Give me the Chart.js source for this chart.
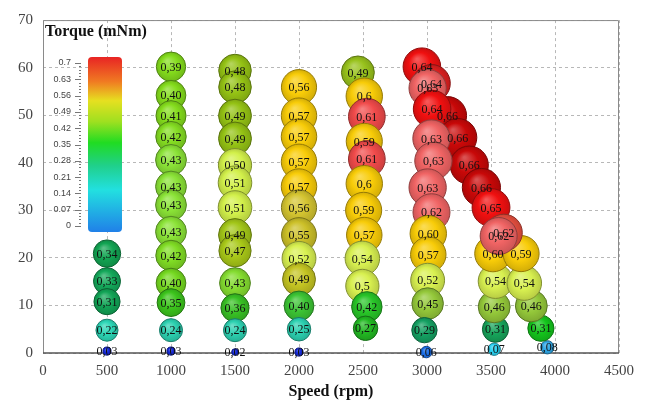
<!DOCTYPE html>
<html>
<head>
<meta charset="utf-8">
<script src="https://cdn.jsdelivr.net/npm/chart.js@4"></script>
<style>
  html, body { margin: 0; padding: 0; background: #fff; }
  #wrap { width: 653px; height: 405px; }
</style>
</head>
<body>
<div id="wrap"><canvas id="chart" width="653" height="405"></canvas></div>
<script>
// points, column by column (order = drawing order)
const vitesse = [
  500, 500, 500, 500, 500,
  1000, 1000, 1000, 1000, 1000, 1000, 1000, 1000, 1000, 1000, 1000, 1000, 1000,
  1500, 1500, 1500, 1500, 1500, 1500, 1500, 1500, 1500, 1500, 1500, 1500, 1500,
  2000, 2000, 2000, 2000, 2000, 2000, 2000, 2000, 2000, 2000, 2000, 2000,
  2460, 2510, 2530, 2510, 2530, 2510, 2505, 2510, 2495, 2495, 2530, 2520,
  3160, 3240, 3330, 3425, 3500,
  2960, 3035, 3005, 3040, 3035, 3050, 3005, 3035, 3010, 3010, 3005, 3005, 2980, 2995,
  3525, 3535, 3525, 3535, 3515, 3940, 3890, 3815, 3760, 3735, 3600, 3560
];
const couple = [
  20.9, 15.1, 10.8, 4.8, 0.4,
  60.2, 54.2, 49.9, 45.5, 40.6, 35.0, 31.1, 25.5, 20.5, 14.7, 10.6, 4.8, 0.4,
  59.4, 55.9, 49.9, 45.1, 39.5, 35.8, 30.6, 24.8, 21.5, 14.7, 9.5, 4.8, 0.2,
  55.9, 49.9, 45.5, 40.2, 35.0, 30.6, 24.8, 19.9, 15.5, 9.9, 5.0, 0.2,
  59.0, 54.0, 49.7, 44.5, 40.8, 35.6, 30.0, 24.8, 19.9, 14.1, 9.7, 5.2,
  49.9, 45.3, 39.5, 34.8, 30.6,
  60.2, 56.7, 55.7, 51.3, 45.1, 40.4, 34.8, 29.6, 25.1, 20.7, 15.3, 10.4, 4.8, 0.2,
  0.8, 5.0, 9.7, 15.1, 20.9, 1.2, 5.2, 9.9, 14.7, 20.9, 25.3, 24.6
];
const valeurs = [
  '0,34', '0,33', '0,31', '0,22', '0,03',
  '0,39', '0,40', '0,41', '0,42', '0,43', '0,43', '0,43', '0,43', '0,42', '0,40', '0,35', '0,24', '0,03',
  '0,48', '0,48', '0,49', '0,49', '0,50', '0,51', '0,51', '0,49', '0,47', '0,43', '0,36', '0,24', '0,02',
  '0,56', '0,57', '0,57', '0,57', '0,57', '0,56', '0,55', '0,52', '0,49', '0,40', '0,25', '0,03',
  '0,49', '0,6', '0,61', '0,59', '0,61', '0,6', '0,59', '0,57', '0,54', '0,5', '0,42', '0,27',
  '0,66', '0,66', '0,66', '0,66', '0,65',
  '0,64', '0,64', '0,63', '0,64', '0,63', '0,63', '0,63', '0,62', '0,60', '0,57', '0,52', '0,45', '0,29', '0,06',
  '0,07', '0,31', '0,46', '0,54', '0,60', '0,08', '0,31', '0,46', '0,54', '0,59', '0,62', '0,62'
];
const xTicks = [0, 500, 1000, 1500, 2000, 2500, 3000, 3500, 4000, 4500];
const yTicks = [0, 10, 20, 30, 40, 50, 60, 70];
const barreTicks = ['0.7', '0.63', '0.56', '0.49', '0.42', '0.35', '0.28', '0.21', '0.14', '0.07', '0'];

// couleurs des bulles (style)
const couleurs = [
  '#12a452', '#14a85a', '#12a456', '#2cd6b6', '#1428d8',
  '#84dc1c', '#84dc1c', '#84dc1c', '#84dc22', '#8ae236', '#8ae236', '#8ae236', '#8ae236', '#80dc24', '#74d820', '#3cc41c', '#2cd0b0', '#1428d8',
  '#94c214', '#94c214', '#94c214', '#94c214', '#d2f04a', '#d2f04a', '#d2f04a', '#a2c618', '#a8c818', '#84dc30', '#38c024', '#2cd0b0', '#1428d8',
  '#f8cc08', '#f8cc08', '#f8cc08', '#f8cc08', '#f8cc08', '#d4c430', '#ccc028', '#d8f050', '#c4c422', '#3cc434', '#2cd0b0', '#1428d8',
  '#98c21c', '#f8cc08', '#f04a4a', '#f8cc08', '#f04a4a', '#f8cc08', '#f8cc08', '#f8cc08', '#d8f050', '#d8f050', '#28c428', '#22b822',
  '#c80808', '#c80808', '#c80808', '#c80808', '#f01010',
  '#f01010', '#e02020', '#f06464', '#f01010', '#f06464', '#f06464', '#f06464', '#f06464', '#f8cc08', '#f8cc08', '#d8f050', '#94c83a', '#14a062', '#1a6ee8',
  '#2ad2f2', '#16a45a', '#94c83a', '#d8f050', '#f8cc08', '#30a8e8', '#14c41c', '#94c83a', '#d8f050', '#f8cc08', '#e85040', '#f06464'
];

const serif = '"Liberation Serif", "Times New Roman", serif';

function num(s) { return parseFloat(s.replace(',', '.')); }

function rgb(hex) {
  const n = parseInt(hex.slice(1), 16);
  return [(n >> 16) & 255, (n >> 8) & 255, n & 255];
}
function mix(hex, cible, t) {
  const a = rgb(hex);
  const c = a.map((v, i) => Math.round(v + (cible[i] - v) * t));
  return `rgb(${c[0]},${c[1]},${c[2]})`;
}

function rayon(i) { return 23.5 * Math.sqrt(num(valeurs[i])); }

function remplissage(ctx) {
  const chart = ctx.chart;
  const i = ctx.dataIndex;
  if (i === undefined || !chart.chartArea) return couleurs[0];
  const col = couleurs[i];
  const cx = chart.scales.x.getPixelForValue(vitesse[i]);
  const cy = chart.scales.y.getPixelForValue(couple[i]);
  const r = rayon(i);
  const g = chart.ctx.createRadialGradient(cx - r * 0.25, cy - r * 0.4, r * 0.05, cx, cy, r);
  g.addColorStop(0, mix(col, [255, 255, 255], 0.3));
  g.addColorStop(0.55, col);
  g.addColorStop(1, mix(col, [0, 0, 0], 0.15));
  return g;
}

const points = vitesse.map((v, i) => ({ x: v, y: couple[i] }));

const cadre = {
  id: 'cadre',
  beforeDatasetsDraw(chart) {
    const { ctx, chartArea: a } = chart;
    ctx.save();
    ctx.strokeStyle = '#8a8a8a';
    ctx.lineWidth = 1;
    ctx.beginPath();
    ctx.moveTo(a.left + 0.5, a.bottom);
    ctx.lineTo(a.left + 0.5, a.top + 0.5);
    ctx.lineTo(a.right - 0.5, a.top + 0.5);
    ctx.lineTo(a.right - 0.5, a.bottom);
    ctx.stroke();
    ctx.strokeStyle = '#555';
    ctx.lineWidth = 1.6;
    ctx.beginPath();
    ctx.moveTo(a.left, a.bottom);
    ctx.lineTo(a.right, a.bottom);
    ctx.stroke();

    // barre de couleur
    const x0 = 88, y0 = 57, w = 34, h = 175;
    const grad = ctx.createLinearGradient(0, y0, 0, y0 + h);
    grad.addColorStop(0, '#e82424');
    grad.addColorStop(0.14, '#f07a22');
    grad.addColorStop(0.25, '#e6e020');
    grad.addColorStop(0.37, '#9ee020');
    grad.addColorStop(0.49, '#20dc22');
    grad.addColorStop(0.62, '#20d08a');
    grad.addColorStop(0.76, '#22e0e0');
    grad.addColorStop(1, '#2080e8');
    ctx.fillStyle = grad;
    ctx.beginPath();
    ctx.roundRect(x0, y0, w, h, 4);
    ctx.fill();

    // graduations de la barre
    const t0 = 63, pas = 16.3;
    ctx.fillStyle = '#444';
    ctx.font = '9px "Liberation Sans", Arial, sans-serif';
    ctx.textAlign = 'right';
    ctx.textBaseline = 'middle';
    ctx.strokeStyle = '#777';
    ctx.lineWidth = 1;
    barreTicks.forEach((t, k) => {
      const y = t0 + k * pas;
      ctx.fillText(t, 71, y);
      ctx.beginPath();
      ctx.moveTo(75, Math.round(y) + 0.5);
      ctx.lineTo(81, Math.round(y) + 0.5);
      ctx.stroke();
    });
    ctx.beginPath();
    for (let y = t0; y <= t0 + pas * 10 + 0.1; y += pas / 5) {
      ctx.moveTo(79, Math.round(y) + 0.5);
      ctx.lineTo(81, Math.round(y) + 0.5);
    }
    ctx.stroke();

    ctx.fillStyle = '#111';
    ctx.font = 'bold 16px ' + serif;
    ctx.textAlign = 'left';
    ctx.textBaseline = 'alphabetic';
    ctx.fillText('Torque (mNm)', 45, 36);
    ctx.restore();
  },
  afterDatasetsDraw(chart) {
    const { ctx } = chart;
    const meta = chart.getDatasetMeta(0);
    ctx.save();
    ctx.fillStyle = '#111';
    ctx.font = '12px ' + serif;
    ctx.textAlign = 'center';
    ctx.textBaseline = 'middle';
    meta.data.forEach((el, i) => {
      ctx.fillText(valeurs[i], el.x, el.y + 1);
    });
    ctx.restore();
  }
};

new Chart(document.getElementById('chart'), {
  type: 'bubble',
  data: {
    datasets: [{
      data: points,
      clip: false,
      radius: ctx => rayon(ctx.dataIndex),
      backgroundColor: remplissage,
      borderColor: ctx => mix(couleurs[ctx.dataIndex] || '#888888', [0, 0, 0], 0.4),
      borderWidth: 1
    }]
  },
  options: {
    responsive: false,
    animation: false,
    events: [],
    layout: { padding: { left: 0, top: 15, right: 34, bottom: 0 } },
    plugins: { legend: { display: false }, tooltip: { enabled: false } },
    scales: {
      x: {
        type: 'linear',
        min: 0,
        max: 4500,
        afterBuildTicks: s => { s.ticks = xTicks.map(v => ({ value: v })); },
        afterFit: s => { s.height = 52; },
        ticks: {
          color: '#444',
          font: { family: serif, size: 15 },
          padding: 9,
          callback: v => String(v)
        },
        grid: { color: '#b8b8b8', lineWidth: 1, drawTicks: false },
        border: { display: false, dash: [3, 3] },
        title: {
          display: true,
          text: 'Speed (rpm)',
          color: '#111',
          font: { family: serif, size: 16, weight: 'bold' },
          padding: { top: 0, bottom: 4 }
        }
      },
      y: {
        min: 0,
        max: 70,
        afterBuildTicks: s => { s.ticks = yTicks.map(v => ({ value: v })); },
        afterFit: s => { s.width = 43; },
        ticks: {
          color: '#444',
          font: { family: serif, size: 15 },
          padding: 10,
          callback: v => String(v)
        },
        grid: { color: '#b8b8b8', lineWidth: 1, drawTicks: false },
        border: { display: false, dash: [3, 3] }
      }
    }
  },
  plugins: [cadre]
});
</script>
</body>
</html>
